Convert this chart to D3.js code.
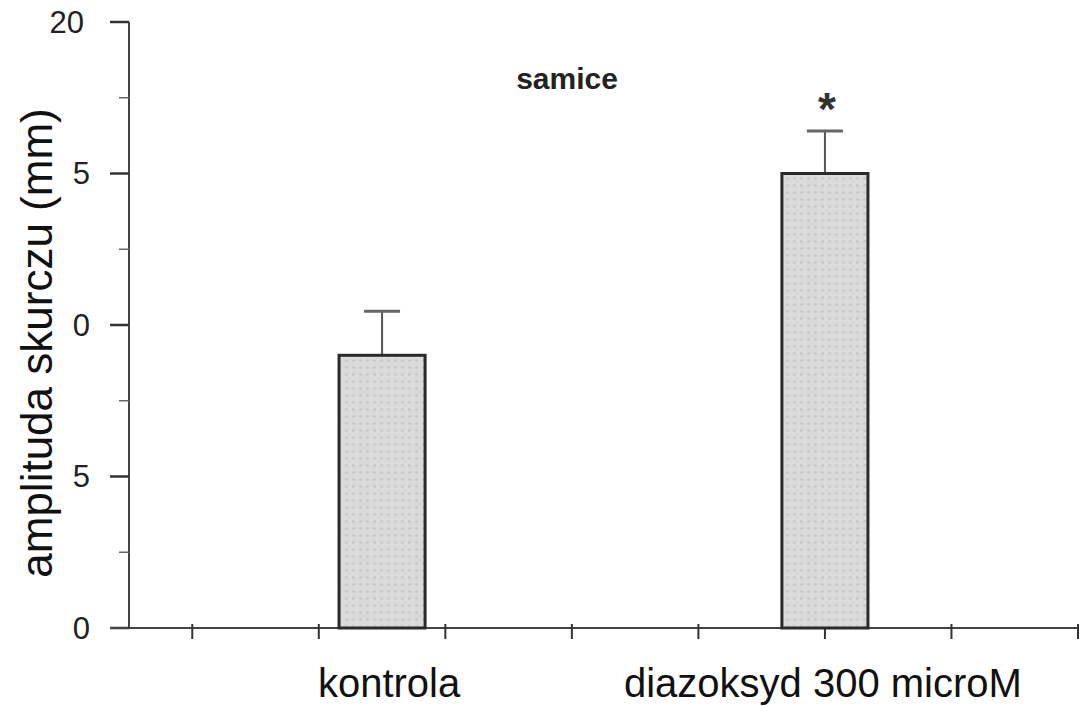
<!DOCTYPE html>
<html>
<head>
<meta charset="utf-8">
<script src="https://cdn.jsdelivr.net/npm/d3@7"></script>
<style>
  body { margin: 0; background: #fff; }
  text { font-family: "Liberation Sans", Arial, sans-serif; }
</style>
</head>
<body>
<div id="chart"></div>
<script>
// data
var categories = ["kontrola", "diazoksyd 300 microM"];
var catPos = [2, 5.5];               // position along x axis (in tick units)
var means = [9.0, 15.0];
var errors = [1.45, 1.4];
var marks = ["", "*"];
var yTickValues = [0, 5, 10, 15, 20];
var yTickLabels = ["0", "5", "0", "5", "20"];
var yMinorValues = [2.5, 7.5, 12.5, 17.5];
var xTickValues = [0.5, 1.5, 2.5, 3.5, 4.5, 5.5, 6.5, 7.5];

var width = 1086, height = 706;
var x0 = 129, y0 = 628, yTop = 22;

var svg = d3.select("#chart").append("svg")
    .attr("width", width)
    .attr("height", height);

// pattern for the bars
var defs = svg.append("defs");
var pat = defs.append("pattern")
    .attr("id", "dots")
    .attr("width", 7).attr("height", 7)
    .attr("patternUnits", "userSpaceOnUse");
pat.append("rect").attr("width", 7).attr("height", 7).attr("fill", "#dadada");
pat.append("circle").attr("cx", 3.5).attr("cy", 3.5).attr("r", 1.3).attr("fill", "#c6c6c6");

var yScale = d3.scaleLinear().domain([0, 20]).range([y0, yTop]);
var xScale = d3.scaleLinear().domain([0, 7.5]).range([x0, 1078]);
var barW = xScale(0.68) - xScale(0);

// y axis
svg.append("line")
    .attr("x1", x0).attr("x2", x0)
    .attr("y1", yTop).attr("y2", y0)
    .attr("stroke", "#444").attr("stroke-width", 2);

svg.selectAll("line.ymaj")
    .data(yTickValues)
    .enter()
    .append("line")
        .attr("class", "ymaj")
        .attr("x1", x0 - 19).attr("x2", x0)
        .attr("y1", d => yScale(d)).attr("y2", d => yScale(d))
        .attr("stroke", "#333").attr("stroke-width", 2.5);

svg.selectAll("line.ymin")
    .data(yMinorValues)
    .enter()
    .append("line")
        .attr("class", "ymin")
        .attr("x1", x0 - 10).attr("x2", x0)
        .attr("y1", d => yScale(d)).attr("y2", d => yScale(d))
        .attr("stroke", "#666").attr("stroke-width", 1.5);

svg.selectAll("text.ylab")
    .data(yTickValues)
    .enter()
    .append("text")
        .attr("class", "ylab")
        .attr("x", d => d === 20 ? 84 : 90)
        .attr("y", d => yScale(d))
        .attr("dy", "0.35em")
        .attr("text-anchor", "end")
        .style("font-size", "31px")
        .style("fill", "#222")
        .text((d, i) => yTickLabels[i]);

// x axis
svg.append("line")
    .attr("x1", 110).attr("x2", 1078)
    .attr("y1", y0).attr("y2", y0)
    .attr("stroke", "#444").attr("stroke-width", 2);

svg.selectAll("line.xtick")
    .data(xTickValues)
    .enter()
    .append("line")
        .attr("class", "xtick")
        .attr("x1", d => xScale(d)).attr("x2", d => xScale(d))
        .attr("y1", y0 - 4).attr("y2", y0 + 11)
        .attr("stroke", "#333").attr("stroke-width", 2);

// error bars
var errG = svg.append("g").attr("class", "errors");
errG.selectAll("line.stem")
    .data(means)
    .enter()
    .append("line")
        .attr("x1", (d, i) => xScale(catPos[i])).attr("x2", (d, i) => xScale(catPos[i]))
        .attr("y1", d => yScale(d)).attr("y2", (d, i) => yScale(d + errors[i]))
        .attr("stroke", "#555").attr("stroke-width", 2);
errG.selectAll("line.cap")
    .data(means)
    .enter()
    .append("line")
        .attr("x1", (d, i) => xScale(catPos[i]) - 18).attr("x2", (d, i) => xScale(catPos[i]) + 18)
        .attr("y1", (d, i) => yScale(d + errors[i])).attr("y2", (d, i) => yScale(d + errors[i]))
        .attr("stroke", "#666").attr("stroke-width", 3);

// bars
svg.selectAll("rect.bar")
    .data(means)
    .enter()
    .append("rect")
        .attr("class", "bar")
        .attr("x", (d, i) => xScale(catPos[i]) - barW / 2)
        .attr("y", d => yScale(d))
        .attr("width", barW)
        .attr("height", d => y0 - yScale(d))
        .attr("fill", "url(#dots)")
        .attr("stroke", "#2a2a2a")
        .attr("stroke-width", 3);

// significance marks
svg.selectAll("text.mark")
    .data(means)
    .enter()
    .append("text")
        .attr("class", "mark")
        .attr("x", (d, i) => xScale(catPos[i]) + 2)
        .attr("y", (d, i) => yScale(d + errors[i]) - 6)
        .attr("text-anchor", "middle")
        .style("font-size", "46px")
        .style("font-weight", "bold")
        .style("fill", "#333")
        .text((d, i) => marks[i]);

// category labels
svg.selectAll("text.cat")
    .data(categories)
    .enter()
    .append("text")
        .attr("class", "cat")
        .attr("x", (d, i) => xScale(catPos[i]) + (i === 0 ? 7 : -2))
        .attr("y", 697)
        .attr("text-anchor", "middle")
        .style("font-size", "40px")
        .style("fill", "#111")
        .text(d => d);

// title inside plot
svg.append("text")
    .attr("x", 567)
    .attr("y", 89)
    .attr("text-anchor", "middle")
    .style("font-size", "30px")
    .style("font-weight", "bold")
    .style("fill", "#222")
    .text("samice");

// y axis title
svg.append("text")
    .attr("transform", "translate(52," + 343 + ") rotate(-90)")
    .attr("text-anchor", "middle")
    .style("font-size", "44px")
    .style("fill", "#111")
    .text("amplituda skurczu (mm)");
</script>
</body>
</html>
